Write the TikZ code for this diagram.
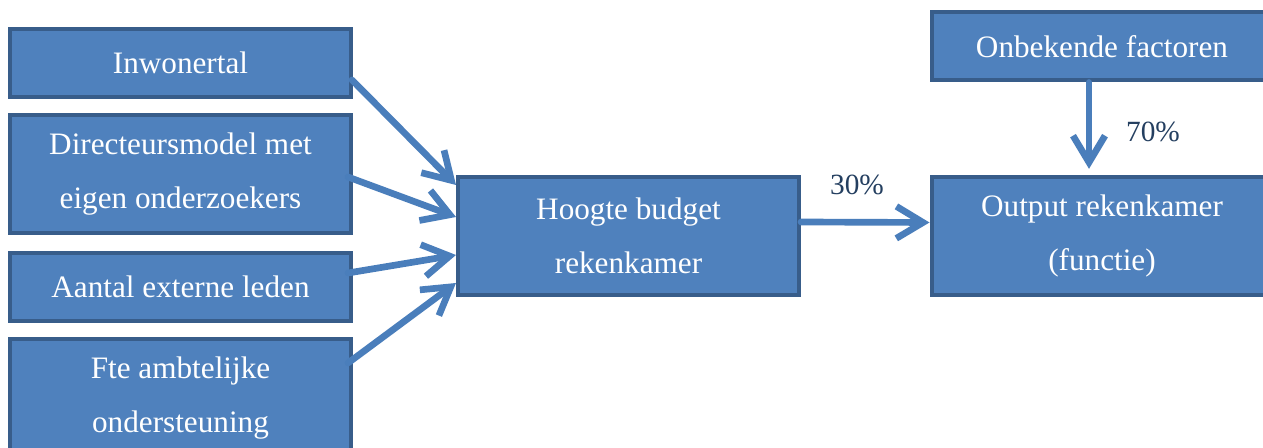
\documentclass[tikz,border=0pt]{standalone}
\usepackage{fontspec}
\setmainfont{Liberation Serif}
\usetikzlibrary{arrows.meta,calc}
\definecolor{boxfill}{HTML}{4F81BD}
\definecolor{boxline}{HTML}{385D8A}
\definecolor{arrowblue}{HTML}{4A7EBB}
\definecolor{labelblue}{HTML}{243F60}

\begin{document}
\begin{tikzpicture}
        [%%%%%%%%%%%%%%%%%%%%%%%%%%%%%%
            x=0.75pt,y=-0.75pt,
            box/.style={rectangle,draw=boxline,fill=boxfill,line width=3pt,text=white,align=center,
                minimum width=255.75pt,minimum height=51pt,inner sep=0pt,
                font=\fontsize{23.4}{40.5}\selectfont},
            tall/.style={box,minimum height=88.5pt},
            wide/.style={minimum width=285pt},
            flow/.style={draw=arrowblue,line width=5pt,line cap=round,
                -{Straight Barb[length=20pt,width=24pt,line width=5pt]}},
            pct/.style={text=labelblue,inner sep=0pt,font=\fontsize{22}{26}\selectfont},
        ]%%%%%%%%%%%%%%%%%%%%%%%%%%%%%%

        \useasboundingbox (0,0) rectangle (1263,448);
        \clip (0,0) rectangle (1263,448);
        \fill[white] (0,0) rectangle (1263,448);

        \node[box]  (inwoner)   at (180.5,63)  {Inwonertal};
        \node[tall] (directeur) at (180.5,174) {Directeursmodel met\\eigen onderzoekers};
        \node[box]  (extern)    at (180.5,287) {Aantal externe leden};
        \node[tall] (fte)       at (180.5,398) {Fte ambtelijke\\ondersteuning};
        \node[tall] (budget)    at (628.5,236) {Hoogte budget\\rekenkamer};
        \node[tall,wide] (output)   at (1121.5,236.5) {\hspace*{-29.25pt}Output rekenkamer\\\hspace*{-29.25pt}(functie)};
        \node[box,wide]  (onbekend) at (1121.5,46.5) {\hspace*{-29.25pt}Onbekende factoren};

        \draw[flow] ($(inwoner.east)+(-1,17)$) -- ($(budget.west)+(0,-51)$);
        \draw[flow] ($(directeur.east)+(-5,3)$) -- ($(budget.west)+(0,-19)$);
        \draw[flow] ($(extern.east)+(-5,-14)$) -- ($(budget.west)+(0,19)$);
        \draw[flow] ($(fte.east)+(-5,-35)$) -- ($(budget.west)+(0,47)$);
        \draw[flow] ($(budget.east)+(0,-14)$) -- ($(output.west)+(0,-14)$);
        \draw[flow,shorten >=5pt] ($(onbekend.south)+(-32.5,0)$) -- ($(output.north)+(-32.5,0)$);

        \node[pct] (dertig)  at (857,185) {30\%};
        \node[pct] (zeventig) at (1153,132) {70\%};
    \end{tikzpicture}
\end{document}
